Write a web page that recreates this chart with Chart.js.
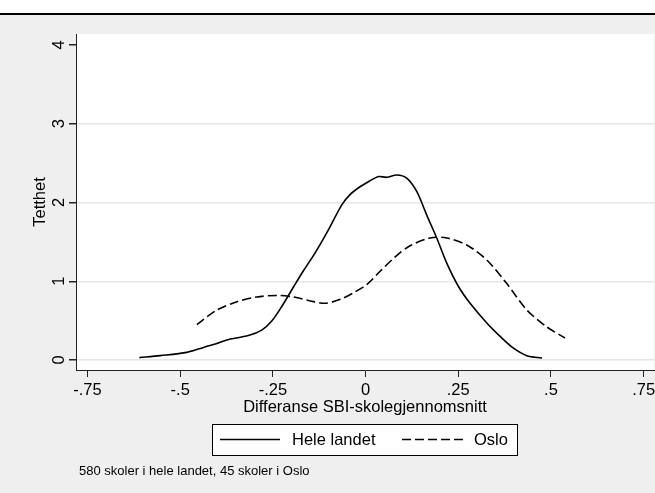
<!DOCTYPE html>
<html>
<head>
<meta charset="utf-8">
<style>
  html, body { margin: 0; padding: 0; background: #fff; }
</style>
<script src="https://cdn.jsdelivr.net/npm/chart.js@4.4.0/dist/chart.umd.min.js"></script>
</head>
<body>
<canvas id="chart" width="655" height="493"></canvas>
<script>
// density curves
const heleX = [-0.610, -0.554, -0.482, -0.437, -0.401, -0.374, -0.316, -0.280, -0.253, -0.226,
               -0.194, -0.168, -0.136, -0.104, -0.064, -0.042, -0.015, 0.010, 0.035, 0.057,
               0.084, 0.111, 0.138, 0.165, 0.192, 0.219, 0.251, 0.282, 0.327, 0.363,
               0.399, 0.435, 0.476];
const heleY = [0.03, 0.055, 0.097, 0.16, 0.21, 0.254, 0.31, 0.38, 0.495, 0.68,
               0.93, 1.13, 1.36, 1.62, 1.97, 2.10, 2.20, 2.27, 2.33, 2.32,
               2.35, 2.31, 2.14, 1.84, 1.55, 1.23, 0.93, 0.72, 0.47, 0.30,
               0.15, 0.055, 0.025];
const osloX = [-0.455, -0.401, -0.347, -0.293, -0.239, -0.194, -0.149, -0.109, -0.068, -0.030,
               0.004, 0.040, 0.080, 0.120, 0.174, 0.219, 0.273, 0.327, 0.381, 0.435,
               0.489, 0.538];
const osloY = [0.45, 0.635, 0.74, 0.80, 0.82, 0.80, 0.75, 0.72, 0.77, 0.86,
               0.96, 1.13, 1.31, 1.45, 1.55, 1.55, 1.46, 1.27, 0.97, 0.635,
               0.42, 0.28];

const seriesNames = ['Hele landet', 'Oslo'];
const xTicks = [-0.75, -0.5, -0.25, 0, 0.25, 0.5, 0.75];
const xTickLabels = ['-.75', '-.5', '-.25', '0', '.25', '.5', '.75'];
const yTicks = [0, 1, 2, 3, 4];
const xTitle = 'Differanse SBI-skolegjennomsnitt';
const yTitle = 'Tetthet';
const noteText = '580 skoler i hele landet, 45 skoler i Oslo';

const FONT = '"Liberation Sans", Arial, sans-serif';
const BG = '#efefef';

const toPoints = (xs, ys) => xs.map((x, i) => ({ x: x, y: ys[i] }));

const backdrop = {
  id: 'backdrop',
  beforeDraw(chart) {
    const c = chart.ctx;
    const a = chart.chartArea;
    c.save();
    c.fillStyle = '#fff';
    c.fillRect(0, 0, chart.width, chart.height);
    c.fillStyle = BG;
    c.fillRect(0, 15, chart.width, chart.height - 15);
    c.fillStyle = '#000';
    c.fillRect(0, 13, chart.width, 2);
    c.fillStyle = '#fff';
    c.fillRect(a.left, a.top, a.right - a.left, a.bottom - a.top);
    c.restore();
  }
};

const labels = {
  id: 'labels',
  afterDraw(chart) {
    const c = chart.ctx;
    const a = chart.chartArea;
    const ys = chart.scales.y;
    c.save();
    c.fillStyle = '#000';
    c.font = '16.5px ' + FONT;
    c.textAlign = 'center';
    c.textBaseline = 'alphabetic';

    // y tick labels, rotated
    yTicks.forEach(v => {
      c.save();
      c.translate(64, ys.getPixelForValue(v));
      c.rotate(-Math.PI / 2);
      c.fillText(String(v), 0, 0);
      c.restore();
    });

    // y title
    c.save();
    c.translate(45, (a.top + a.bottom) / 2);
    c.rotate(-Math.PI / 2);
    c.fillText(yTitle, 0, 0);
    c.restore();

    // x title
    c.fillText(xTitle, (a.left + a.right) / 2, 412);

    // legend box
    const bx = 212.5, by = 424.5, bw = 305, bh = 31;
    c.fillStyle = '#fff';
    c.fillRect(bx, by, bw, bh);
    c.strokeStyle = '#000';
    c.lineWidth = 1;
    c.strokeRect(bx, by, bw, bh);
    const ly = 439.5;
    const sets = chart.data.datasets;
    const items = [
      { x1: 220, x2: 280, tx: 292, ds: sets[0] },
      { x1: 402, x2: 465, tx: 474, ds: sets[1] }
    ];
    items.forEach(it => {
      c.save();
      c.strokeStyle = '#000';
      c.lineWidth = 1.6;
      c.setLineDash(it.ds.borderDash || []);
      c.beginPath();
      c.moveTo(it.x1, ly);
      c.lineTo(it.x2, ly);
      c.stroke();
      c.restore();
      c.fillStyle = '#000';
      c.textAlign = 'left';
      c.textBaseline = 'middle';
      c.fillText(it.ds.label, it.tx, ly + 1);
    });

    // note
    c.font = '13px ' + FONT;
    c.textAlign = 'left';
    c.textBaseline = 'alphabetic';
    c.fillText(noteText, 79, 475);
    c.restore();
  }
};

const ctx = document.getElementById('chart').getContext('2d');
const chart = new Chart(ctx, {
  type: 'line',
  data: {
    datasets: [{
      label: seriesNames[0],
      data: toPoints(heleX, heleY),
      borderColor: '#000',
      borderWidth: 1.6,
      pointRadius: 0,
      tension: 0.3,
      fill: false
    }, {
      label: seriesNames[1],
      data: toPoints(osloX, osloY),
      borderColor: '#000',
      borderWidth: 1.6,
      borderDash: [9, 4],
      pointRadius: 0,
      tension: 0.3,
      fill: false
    }]
  },
  options: {
    responsive: false,
    animation: false,
    devicePixelRatio: 1,
    layout: { padding: { left: 0, top: 34, right: 1, bottom: 0 } },
    plugins: {
      legend: { display: false },
      tooltip: { enabled: false },
      title: { display: false }
    },
    scales: {
      x: {
        type: 'linear',
        min: -0.781,
        max: 0.778,
        afterBuildTicks: s => { s.ticks = xTicks.map(v => ({ value: v })); },
        afterFit: s => { s.height = 123; s.paddingLeft = 0; s.paddingRight = 0; },
        grid: { drawOnChartArea: false, drawTicks: true, tickLength: 7, color: '#222', tickColor: '#222' },
        border: { display: true, color: '#222', width: 1 },
        ticks: {
          autoSkip: false,
          maxRotation: 0,
          minRotation: 0,
          padding: 4,
          color: '#000',
          font: { family: FONT, size: 16.5 },
          callback: (v) => {
            const i = xTicks.indexOf(v);
            return i >= 0 ? xTickLabels[i] : '';
          }
        }
      },
      y: {
        type: 'linear',
        min: -0.127,
        max: 4.14,
        afterBuildTicks: s => { s.ticks = yTicks.map(v => ({ value: v })); },
        afterFit: s => { s.width = 76; s.paddingTop = 0; s.paddingBottom = 0; },
        grid: {
          drawTicks: true,
          tickLength: 7,
          lineWidth: 1.5,
          color: c => (c.tick && c.tick.value === 4) ? 'rgba(0,0,0,0)' : '#e6e6e6',
          tickColor: '#222'
        },
        border: { display: true, color: '#222', width: 1 },
        ticks: { display: false }
      }
    }
  },
  plugins: [backdrop, labels]
});
</script>
</body>
</html>
